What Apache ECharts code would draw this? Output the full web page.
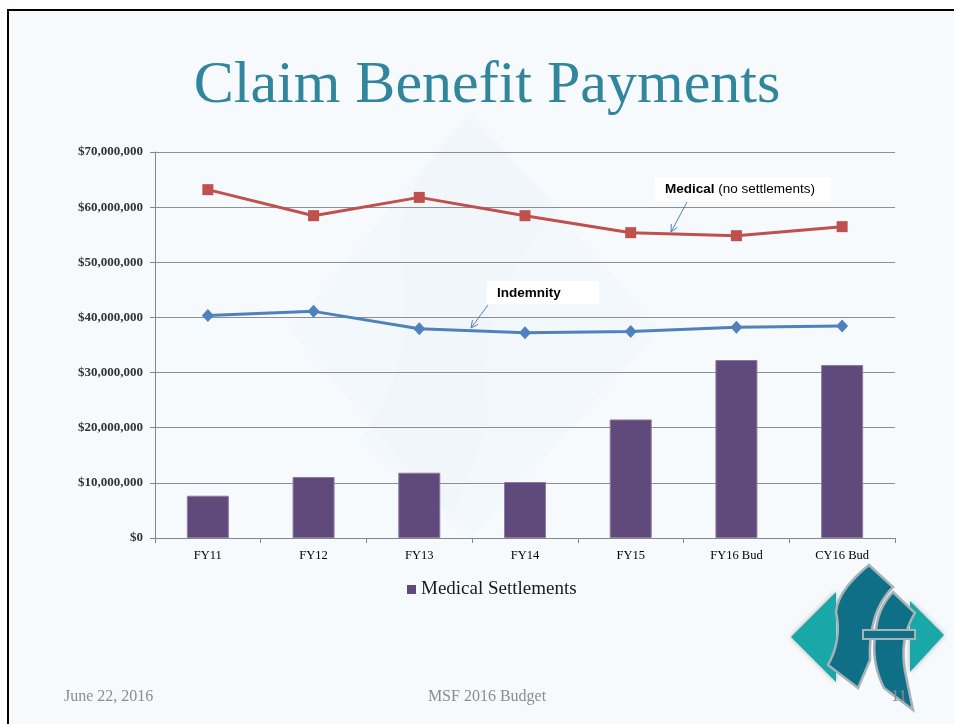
<!DOCTYPE html>
<html>
<head>
<meta charset="utf-8">
<script src="https://cdn.jsdelivr.net/npm/echarts/dist/echarts.min.js"></script>
<style>
html,body{margin:0;padding:0;background:#ffffff;}
#slide{position:absolute;left:7px;top:9px;width:960px;height:730px;background:#F6FAFD;border-left:2px solid #000;border-top:2px solid #000;}
#chart{position:absolute;left:0;top:0;width:954px;height:724px;}
</style>
</head>
<body>
<div id="slide"></div>
<div id="chart"></div>
<script>
var categories = ['FY11','FY12','FY13','FY14','FY15','FY16 Bud','CY16 Bud'];
var medicalSettlements = [7670000, 11060000, 11840000, 10150000, 21500000, 32280000, 31370000];
var medicalNoSettlements = [63170000, 58450000, 61770000, 58450000, 55370000, 54820000, 56460000];
var indemnity = [40370000, 41100000, 37960000, 37230000, 37470000, 38200000, 38450000];
var yTicks = {min: 0, max: 70000000, interval: 10000000};

var chart = echarts.init(document.getElementById('chart'), null, {renderer:'canvas'});

function arrow(x1, y1, x2, y2) {
  var dx = x2 - x1, dy = y2 - y1, L = Math.sqrt(dx*dx + dy*dy);
  var ux = dx / L, uy = dy / L, h = 8, a = 0.45;
  var ca = Math.cos(a), sa = Math.sin(a);
  var w1 = [x2 - h*(ux*ca - uy*sa), y2 - h*(uy*ca + ux*sa)];
  var w2 = [x2 - h*(ux*ca + uy*sa), y2 - h*(uy*ca - ux*sa)];
  return [
    {type:'line', shape:{x1:x1,y1:y1,x2:x2,y2:y2}, style:{stroke:'#4F81BD', lineWidth:1}, z:20},
    {type:'line', shape:{x1:w1[0],y1:w1[1],x2:x2,y2:y2}, style:{stroke:'#4F81BD', lineWidth:1}, z:20},
    {type:'line', shape:{x1:w2[0],y1:w2[1],x2:x2,y2:y2}, style:{stroke:'#4F81BD', lineWidth:1}, z:20}
  ];
}
function shapePts(start, steps) {
  var pts = [start], cur = start;
  steps.forEach(function(s){
    if (s.length === 1) { pts.push(s[0]); cur = s[0]; }
    else {
      var c = s[0], p = s[1];
      for (var i = 1; i <= 12; i++) {
        var t = i/12, m = 1-t;
        pts.push([m*m*cur[0] + 2*m*t*c[0] + t*t*p[0], m*m*cur[1] + 2*m*t*c[1] + t*t*p[1]]);
      }
      cur = p;
    }
  });
  return pts;
}
var bandA = shapePts([869,565], [[[893,587]], [[868,612],[870,660]], [[858,688]], [[828,665]], [[842,640],[836,612]], [[838,590],[869,565]]]);
var bandB = shapePts([893,592], [[[915,613]], [[898,640],[906,676]], [[913,710]], [[884,688]], [[870,660],[876,630]], [[878,608],[893,592]]]);
var wmA = shapePts([470,120], [[[560,210]], [[470,300],[490,420]], [[450,520]], [[360,440]], [[420,360],[400,260]], [[390,190],[470,120]]]);

var graphics = [
  {type:'text', x:487, y:86, z:10,
   style:{text:'Claim Benefit Payments', align:'center', verticalAlign:'middle', font:'60px "Liberation Serif", serif', fill:'#31859C'}},
  {type:'polygon', z:-5, shape:{points:[[470,110],[660,330],[470,540],[290,330]]}, style:{fill:'rgba(190,220,228,0.05)'}},
  {type:'polygon', z:-5, shape:{points:wmA}, style:{fill:'rgba(200,225,230,0.07)'}},
  {type:'rect', shape:{x:655,y:177,width:176,height:24}, style:{fill:'#ffffff'}, z:15},
  {type:'text', x:665, y:189, z:16,
   style:{text:'{b|Medical} (no settlements)', verticalAlign:'middle', font:'13.5px "Liberation Sans", sans-serif', fill:'#000',
     rich:{b:{fontWeight:'bold', fontSize:13.5, fontFamily:'"Liberation Sans", sans-serif', fill:'#000'}}}},
  {type:'rect', shape:{x:487,y:281,width:112,height:23}, style:{fill:'#ffffff'}, z:15},
  {type:'text', x:497, y:293, z:16,
   style:{text:'Indemnity', verticalAlign:'middle', font:'bold 13.5px "Liberation Sans", sans-serif', fill:'#000'}},
  {type:'text', x:64, y:697, z:10, style:{text:'June 22, 2016', verticalAlign:'middle', font:'16px "Liberation Serif", serif', fill:'#8C8C8C'}},
  {type:'text', x:487, y:697, z:10, style:{text:'MSF 2016 Budget', align:'center', verticalAlign:'middle', font:'16px "Liberation Serif", serif', fill:'#8C8C8C'}},
  {type:'polygon', z:11, shape:{points:[[791,637],[836,592],[836,682]]}, style:{fill:'#1AA7A8', shadowBlur:5, shadowColor:'rgba(0,0,0,0.3)'}},
  {type:'polygon', z:11, shape:{points:[[944,635],[910,601],[910,672]]}, style:{fill:'#1AA7A8', shadowBlur:5, shadowColor:'rgba(0,0,0,0.3)'}},
  {type:'polygon', z:12, shape:{points:bandA}, style:{fill:'#0E6F86', stroke:'#A7B3B8', lineWidth:2.5}},
  {type:'polygon', z:12, shape:{points:bandB}, style:{fill:'#0E6F86', stroke:'#A7B3B8', lineWidth:2.5}},
  {type:'rect', z:13, shape:{x:863,y:630,width:52,height:9}, style:{fill:'#0E6F86', stroke:'#A7B3B8', lineWidth:2}},
  {type:'text', x:899, y:697, z:14, style:{text:'11', align:'center', verticalAlign:'middle', font:'16px "Liberation Serif", serif', fill:'#8C8C8C'}}
];
graphics = graphics.concat(arrow(687, 202, 671, 232)).concat(arrow(488, 305, 471, 328));

var option = {
  animation:false,
  backgroundColor:'transparent',
  grid:{left:155, right:59, top:152, bottom:186, containLabel:false},
  legend:{
    data:['Medical Settlements'], left:402, top:575, icon:'rect', itemWidth:9, itemHeight:9, itemGap:5,
    itemStyle:{borderWidth:0},
    textStyle:{fontFamily:'"Liberation Serif", serif', fontSize:19, color:'#1a1a1a'}
  },
  xAxis:{
    type:'category', data:categories, boundaryGap:true,
    axisLine:{lineStyle:{color:'#868686', width:1}},
    axisTick:{show:true, length:5, lineStyle:{color:'#868686'}},
    axisLabel:{margin:11, fontFamily:'"Liberation Serif", serif', fontSize:12.5, color:'#000'}
  },
  yAxis:{
    type:'value', min:yTicks.min, max:yTicks.max, interval:yTicks.interval,
    axisLine:{show:true, lineStyle:{color:'#868686', width:1}},
    axisTick:{show:true, length:5, lineStyle:{color:'#868686'}},
    splitLine:{lineStyle:{color:'#8E8E8E', width:1}},
    axisLabel:{margin:12, fontFamily:'"Liberation Serif", serif', fontSize:13, fontWeight:'bold', color:'#333',
      formatter:function(v){return '$' + v.toLocaleString('en-US');}}
  },
  series:[
    {name:'Medical Settlements', type:'bar', data:medicalSettlements, barWidth:42, z:2,
     itemStyle:{color:'#604A7B', borderColor:'#8C7AA3', borderWidth:1}},
    {name:'Medical (no settlements)', type:'line', data:medicalNoSettlements, z:5,
     symbol:'rect', symbolSize:11, lineStyle:{color:'#C0504D', width:3}, itemStyle:{color:'#C0504D'}},
    {name:'Indemnity', type:'line', data:indemnity, z:5,
     symbol:'diamond', symbolSize:[12,13], lineStyle:{color:'#4F81BD', width:3}, itemStyle:{color:'#4F81BD'}}
  ],
  graphic:graphics
};
chart.setOption(option);
</script>
</body>
</html>
